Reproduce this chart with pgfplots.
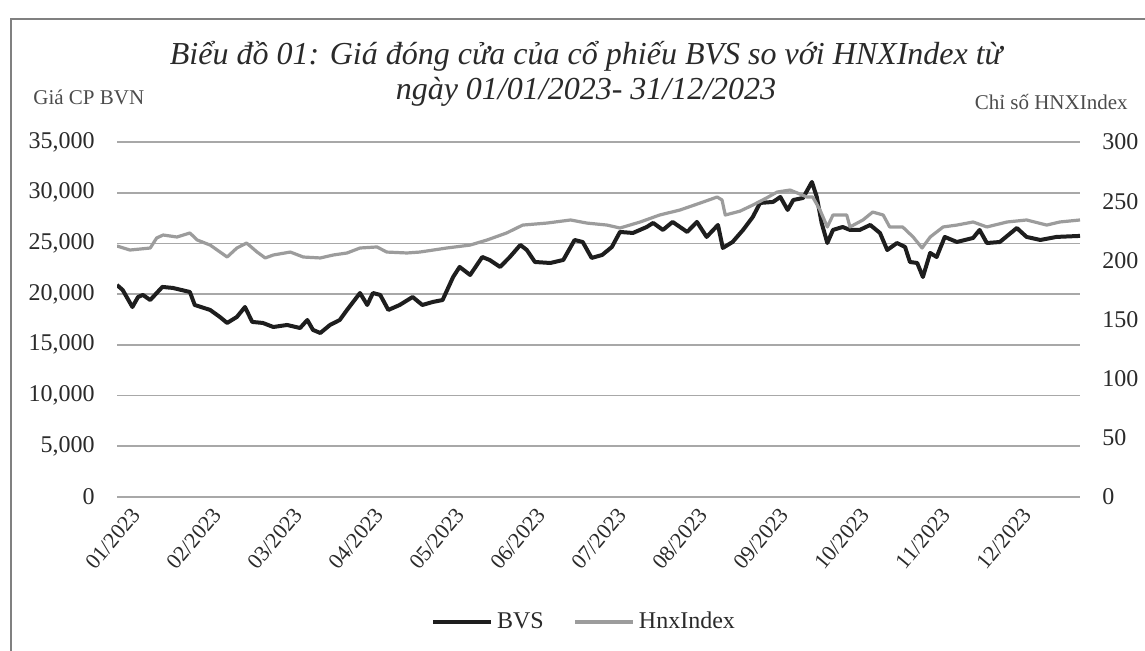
\documentclass[border=0pt]{standalone}
\usepackage{fontspec}
\setmainfont{Liberation Serif}
\usepackage{pgfplots}
\usepackage{pgfplotstable}
\pgfplotsset{compat=1.18}

\definecolor{bvs}{HTML}{1E1E1E}
\definecolor{hnx}{HTML}{9C9C9C}
\definecolor{gridc}{HTML}{A8A8A8}
\definecolor{txt}{HTML}{2A2A2A}

\pgfplotstableread{
m v
0 20900
0.07 20410
0.19 18730
0.26 19720
0.32 19920
0.41 19420
0.56 20710
0.69 20610
0.90 20210
0.96 18930
1.15 18440
1.27 17750
1.36 17160
1.48 17750
1.58 18730
1.67 17260
1.80 17160
1.93 16760
2.10 16960
2.26 16660
2.35 17450
2.42 16470
2.51 16170
2.63 16960
2.75 17450
2.84 18440
3.00 20110
3.09 18930
3.16 20110
3.25 19920
3.35 18440
3.49 18930
3.65 19720
3.77 18930
3.90 19230
4.02 19420
4.15 21690
4.23 22680
4.36 21890
4.51 23660
4.60 23370
4.73 22680
4.85 23660
4.98 24850
5.06 24350
5.16 23170
5.35 23070
5.51 23370
5.65 25340
5.75 25140
5.86 23570
5.99 23860
6.11 24650
6.21 26130
6.37 26030
6.54 26620
6.62 27020
6.74 26330
6.86 27120
7.04 26130
7.16 27120
7.28 25640
7.42 26820
7.48 24550
7.60 25140
7.73 26330
7.85 27610
7.94 28990
8.10 29090
8.19 29580
8.28 28300
8.35 29280
8.47 29480
8.58 31060
8.64 29580
8.70 27020
8.77 25040
8.84 26330
8.96 26620
9.05 26330
9.17 26330
9.30 26820
9.42 26030
9.51 24350
9.63 25040
9.73 24650
9.79 23170
9.88 23070
9.95 21690
10.04 24060
10.12 23660
10.22 25640
10.37 25140
10.57 25540
10.65 26330
10.74 25040
10.90 25140
11.11 26520
11.23 25640
11.40 25340
11.60 25640
11.89 25740
}\bvsdata

\pgfplotstableread{
m v
0 212.1
0.16 208.7
0.41 210.4
0.49 218.9
0.57 221.4
0.74 219.7
0.90 223.1
0.99 217.2
1.15 212.9
1.36 202.8
1.48 210.4
1.60 214.6
1.73 207.0
1.83 202.0
1.93 204.5
2.14 207.0
2.30 202.8
2.51 202.0
2.67 204.5
2.84 206.2
3.00 210.4
3.21 211.3
3.33 207.0
3.58 206.2
3.74 207.0
4.07 210.4
4.36 212.9
4.57 217.2
4.81 223.1
5.01 229.8
5.31 231.5
5.60 234.1
5.80 231.5
6.05 229.8
6.21 227.3
6.46 232.4
6.70 238.3
6.95 242.5
7.20 248.4
7.41 253.5
7.47 251.0
7.51 238.3
7.69 241.5
7.85 246.7
8.02 252.7
8.15 257.7
8.31 259.4
8.40 256.9
8.52 253.5
8.59 253.5
8.68 242.5
8.77 228.2
8.84 238.3
9.01 238.3
9.05 228.2
9.21 234.1
9.33 240.8
9.46 238.3
9.54 228.2
9.70 228.2
9.83 219.7
9.94 210.4
10.04 219.7
10.20 228.2
10.37 229.8
10.57 232.4
10.74 228.2
10.99 232.4
11.23 234.1
11.48 229.8
11.64 232.4
11.89 234.1
}\hnxdata

\pgfplotsset{
  base/.style={
    scale only axis, width=481.5pt, height=177.5pt,
    at={(58.5pt,77pt)}, anchor=south west,
    xmin=0, xmax=11.89, ymin=0,
    axis line style={draw=none}, major tick length=0pt,
    tick label style={text=txt, inner sep=0pt},
    scaled y ticks=false,
    /pgf/number format/fixed,
    /pgf/number format/1000 sep={,},
    /pgf/number format/assume math mode=true,
  },
  bvsline/.style={color=bvs, line width=2pt, line join=round},
  hnxline/.style={color=hnx, line width=1.6pt, line join=round},
}

\begin{document}
\begin{tikzpicture}[x=1pt,y=1pt]
\useasboundingbox (0,0) rectangle (572.5,325.5);
\fill[white] (0,0) rectangle (572.5,325.5);
\draw[black!50, line width=0.8pt] (5.5,0) -- (5.5,316) -- (572.5,316);

\begin{axis}[base,
  ymax=35000, ytick={0,5000,...,35000},
  axis x line*=bottom, axis y line*=left,
  ymajorgrids, grid style={gridc, line width=0.8pt},
  xtick={0,1,...,11},
  xticklabels={01/2023,02/2023,03/2023,04/2023,05/2023,06/2023,07/2023,08/2023,09/2023,10/2023,11/2023,12/2023},
  xticklabel style={rotate=50, anchor=north east, font=\fontsize{11}{11}\selectfont, yshift=-8pt, xshift=1pt},
  yticklabel style={font=\fontsize{12}{12}\selectfont, xshift=-11pt},
]
\addplot[bvsline] table[x=m,y=v]{\bvsdata};
\end{axis}

\begin{axis}[base,
  ymax=300, ytick={0,50,...,300},
  axis y line*=right, axis x line=none,
  yticklabel style={font=\fontsize{12}{12}\selectfont, xshift=11pt},
  legend style={at={(0.486,-0.352)}, anchor=center, draw=none, fill=none,
    font=\fontsize{12}{12}\selectfont, text=txt, inner sep=0pt,
    /tikz/every even column/.append style={column sep=13pt}},
  legend columns=2,
  legend image code/.code={\draw[#1] (0pt,0pt) -- (29pt,0pt);},
]
\addlegendimage{bvsline}
\addlegendentry{BVS}
\addplot[hnxline] table[x=m,y=v]{\hnxdata};
\addlegendentry{HnxIndex}
\end{axis}

\node[font=\fontsize{16}{17.5}\selectfont\itshape, align=center, text=txt] at (293,288.75)
  {Biểu đồ 01: Giá đóng cửa của cổ phiếu BVS so với HNXIndex từ\\ngày 01/01/2023- 31/12/2023};
\node[anchor=west, font=\fontsize{10.5}{10.5}\selectfont, text=black!70, inner sep=0pt] at (16.5,277) {Giá CP BVN};
\node[anchor=east, font=\fontsize{10.5}{10.5}\selectfont, text=black!70, inner sep=0pt] at (564,274.5) {Chỉ số HNXIndex};
\end{tikzpicture}
\end{document}
